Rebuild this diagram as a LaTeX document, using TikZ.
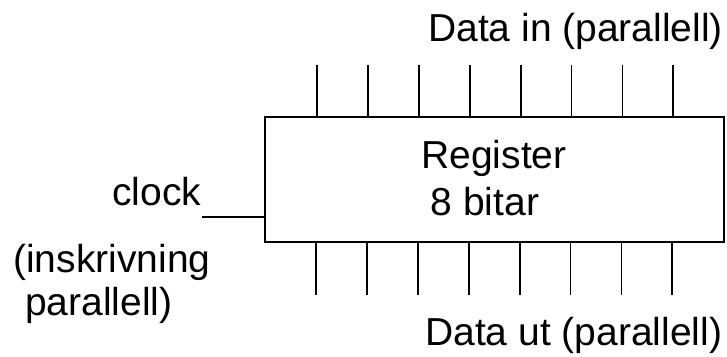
\documentclass[tikz,border=0pt]{standalone}
\usepackage{fontspec}
\setmainfont{Liberation Sans}
\begin{document}
\begin{tikzpicture}[x=1pt,y=-1pt,
  lbl/.style={anchor=base west,inner sep=0pt,font=\fontsize{39}{47}\selectfont},
  lblc/.style={anchor=base,inner sep=0pt,font=\fontsize{39}{47}\selectfont},
  wire/.style={line width=1.8pt,line cap=butt},
  box/.style={draw,line width=1.8pt,minimum width=459pt,minimum height=125pt,inner sep=0pt}]
\useasboundingbox (0,0) rectangle (727,356);
\node[box] (reg) at (494.5,179.5) {};
\node[lblc] (regname) at (494,168) {Register};
\node[lblc] (regbits) at (485,215) {8 bitar};
\node[lbl] (din) at (428,41) {Data in (parallell)};
\node[lbl] (dut) at (425,345) {Data ut (parallell)};
\node[lbl] (clock) at (112,205) {clock};
\node[lbl] (insk1) at (13,272) {(inskrivning};
\node[lbl] (insk2) at (25,315) {parallell)};
\coordinate (clk) at (202,217);
\draw[wire] (clk) -- (clk -| reg.west);
\foreach \i in {0,...,7} {
  \coordinate (t\i) at (317+50.9*\i,65);
  \coordinate (b\i) at (316+50.9*\i,295);
  \draw[wire] (t\i) -- (t\i |- reg.north);
  \draw[wire] (b\i) -- (b\i |- reg.south);
}
\end{tikzpicture}
\end{document}
